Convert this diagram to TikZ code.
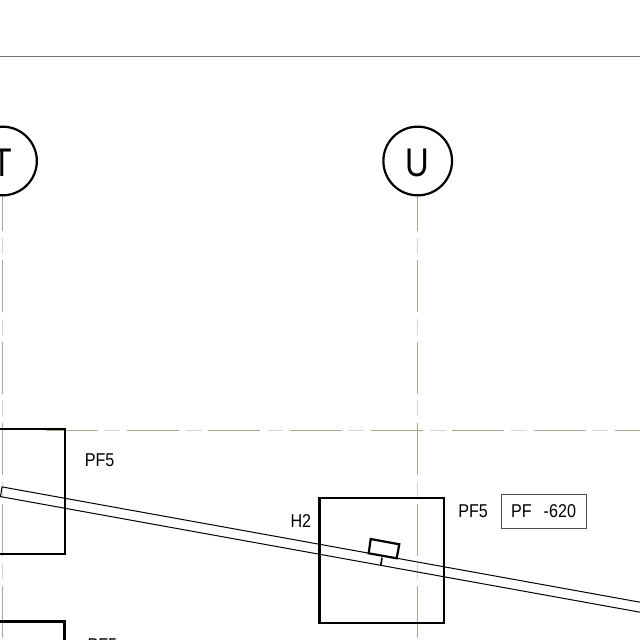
\documentclass[tikz,border=0pt]{standalone}
\usepackage{graphicx}
\usepackage{fontspec}
\setmainfont{Liberation Sans}
\newcommand{\lbl}[1]{\scalebox{.87}[1]{\fontsize{13.9}{14}\selectfont #1}}
\newcommand{\bubtxt}[2]{\scalebox{#1}[1]{\fontsize{30}{30}\selectfont #2}}
\definecolor{gridcol}{HTML}{A8A890}
\tikzset{
  gridline/.style={draw=gridcol,line width=0.75pt,dash pattern=on 39pt off 22pt},
  gridshort/.style={draw=gridcol!45,line width=0.75pt,dash pattern=on 12pt off 49pt,dash phase=17pt},
  column/.style={draw=black,line width=1.65pt},
  bubble/.style={draw=black,line width=1.65pt,fill=white},
  beam/.style={draw=black,line width=0.75pt},
  txt/.style={inner sep=0pt,outer sep=0pt,anchor=base west},
}
\begin{document}
\begin{tikzpicture}[x=0.75pt,y=-0.75pt]
\useasboundingbox (0,0) rectangle (640,640);
\begin{scope}
\clip (0,0) rectangle (640,640);
% top rule
\draw[draw=black!55,line width=0.75pt] (0,56.5) -- (640,56.5);
% grid lines
\draw[gridline] (45.5,430.5) -- (640,430.5);
\draw[gridshort] (45.5,430.5) -- (640,430.5);
\draw[gridline] (2.5,179) -- (2.5,640);
\draw[gridshort] (2.5,179) -- (2.5,640);
\draw[gridline] (417.7,179) -- (417.7,640);
\draw[gridshort] (417.7,179) -- (417.7,640);
% columns
\draw[column] (-10,429.3) -- (65,429.3) -- (65,553.8) -- (-10,553.8);
\draw[column] (-10,621.5) -- (64.5,621.5) -- (64.5,650);
\draw[column] (319.5,498.3) rectangle (444,622.7);
% beam
\draw[beam] (2,486.9) -- (660,605.8) -- (660,615.8) -- (0.5,496.6) -- cycle;
% small fitting
\draw[line width=1.65pt,fill=white] (370.7,539) -- (399.3,544.3) -- (396.7,558.3) -- (368.7,553.3) -- cycle;
\draw[line width=1.2pt] (382,557.7) -- (380.7,566);
% grid bubbles
\node[bubble,circle,minimum size=51.5pt,inner sep=0pt] (cT) at (2.5,161) {};
\node[bubble,circle,minimum size=51.5pt,inner sep=0pt] (cU) at (417.7,161) {};
\node[inner sep=0pt] (tT) at (2.5,162.5) {\bubtxt{.8}{T}};
\node[inner sep=0pt] (tU) at (417.7,162.5) {\bubtxt{.82}{U}};
% labels
\node[txt] (p1) at (84.8,466.3) {\lbl{PF5}};
\node[txt] (p2) at (458.3,517.3) {\lbl{PF5}};
\node[txt] (p3) at (87.5,651) {\lbl{PF5}};
\node[txt] (h2) at (290.5,527.5) {\lbl{H2}};
\node[draw=black!70,line width=0.75pt,minimum width=63.4pt,minimum height=25.5pt,inner sep=0pt] (tag) at (544,511.7) {};
\node[txt] (t1) at (511,517.3) {\lbl{PF}};
\node[txt] (t2) at (543.7,517.3) {\lbl{-620}};
\end{scope}
\end{tikzpicture}
\end{document}
